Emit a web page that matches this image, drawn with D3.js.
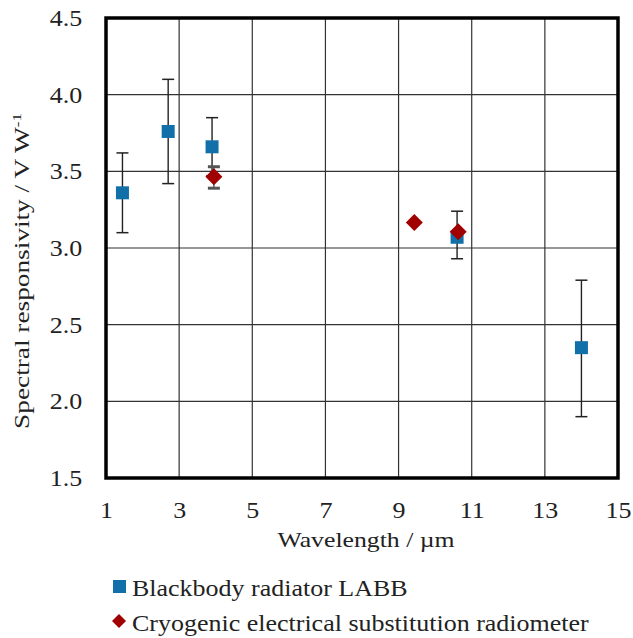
<!DOCTYPE html>
<html>
<head>
<meta charset="utf-8">
<script src="https://cdn.jsdelivr.net/npm/d3@7"></script>
<style>
  body { margin: 0; background: #fff; }
  text { font-family: "Liberation Serif", "Times New Roman", serif; fill: #222; }
</style>
</head>
<body>
<div id="chart"></div>
<script>
// blackbody radiator LABB
var bbWave = [1.45, 2.7, 3.9, 10.6, 14.0];
var bbResp = [3.36, 3.76, 3.66, 3.07, 2.35];
var bbHigh = [3.62, 4.10, 3.85, 3.24, 2.79];
var bbLow  = [3.10, 3.42, 3.47, 2.93, 1.90];

// cryogenic electrical substitution radiometer
var crWave = [3.95, 9.43, 10.63];
var crResp = [3.465, 3.167, 3.106];
var crHigh = [3.53, 3.167, 3.106];
var crLow  = [3.39, 3.167, 3.106];

var xTicks = [1, 3, 5, 7, 9, 11, 13, 15];
var yTicks = [1.5, 2.0, 2.5, 3.0, 3.5, 4.0, 4.5];
var seriesNames = ["Blackbody radiator LABB", "Cryogenic electrical substitution radiometer"];

var width = 633, height = 638;
var margin = {top: 18, right: 15, bottom: 160, left: 106};
var plotW = width - margin.left - margin.right;
var plotH = height - margin.top - margin.bottom;
var stretch = 1.13; // the original font is drawn wider than it is tall

var svg = d3.select("#chart").append("svg")
    .attr("width", width)
    .attr("height", height);

var x = d3.scaleLinear().domain([1, 15]).range([0, plotW]);
var y = d3.scaleLinear().domain([1.5, 4.5]).range([plotH, 0]);

var g = svg.append("g").attr("transform", "translate(" + margin.left + "," + margin.top + ")");

// gridlines
g.selectAll(".vgrid").data(xTicks.slice(1, -1)).enter().append("line")
    .attr("x1", function (d) { return x(d); }).attr("x2", function (d) { return x(d); })
    .attr("y1", 0).attr("y2", plotH)
    .attr("stroke", "#333").attr("stroke-width", 1.2);

g.selectAll(".hgrid").data(yTicks.slice(1, -1)).enter().append("line")
    .attr("x1", 0).attr("x2", plotW)
    .attr("y1", function (d) { return y(d); }).attr("y2", function (d) { return y(d); })
    .attr("stroke", "#333").attr("stroke-width", 1.2);

// frame
g.append("rect")
    .attr("x", 0).attr("y", 0).attr("width", plotW).attr("height", plotH)
    .attr("fill", "none").attr("stroke", "#000").attr("stroke-width", 3.5);

// axes (labels only)
var xAxis = d3.axisBottom(x).tickValues(xTicks).tickSize(0).tickPadding(24).tickFormat(d3.format("d"));
var yAxis = d3.axisLeft(y).tickValues(yTicks).tickSize(0).tickPadding(21).tickFormat(d3.format(".1f"));

g.append("g").attr("transform", "translate(0," + plotH + ")").call(xAxis)
    .call(function (s) { s.select(".domain").remove(); })
    .selectAll("text").style("font-size", "23px").style("font-family", "Liberation Serif")
    .attr("fill", "#222").attr("transform", "scale(" + stretch + ",1)");

g.append("g").call(yAxis)
    .call(function (s) { s.select(".domain").remove(); })
    .selectAll("text").style("font-size", "23px").style("font-family", "Liberation Serif")
    .attr("fill", "#222").attr("transform", "scale(" + stretch + ",1)");

// axis titles
svg.append("text")
    .attr("transform", "translate(" + (margin.left + plotW / 2 + 4) + ",547) scale(1.17,1)")
    .attr("text-anchor", "middle").style("font-size", "22px")
    .text("Wavelength  / \u00b5m");

var yt = svg.append("text")
    .attr("transform", "translate(29," + (margin.top + plotH / 2 + 23) + ") rotate(-90) scale(1.3,1)")
    .attr("text-anchor", "middle").style("font-size", "21px");
yt.append("tspan").text("Spectral responsivity / V  W");
yt.append("tspan").attr("dy", -8).style("font-size", "13px").text("-1");

// error bars helper
function errorBars(xs, lows, highs, color, sw, capW) {
    var eb = g.append("g");
    xs.forEach(function (d, i) {
        if (highs[i] === lows[i]) return;
        eb.append("line")
            .attr("x1", x(d)).attr("x2", x(d))
            .attr("y1", y(lows[i])).attr("y2", y(highs[i]))
            .attr("stroke", color).attr("stroke-width", 1.4);
        [lows[i], highs[i]].forEach(function (v) {
            eb.append("line")
                .attr("x1", x(d) - capW / 2).attr("x2", x(d) + capW / 2)
                .attr("y1", y(v)).attr("y2", y(v))
                .attr("stroke", color).attr("stroke-width", sw);
        });
    });
}

var blue = "#1270a8", red = "#a00000";

errorBars(bbWave, bbLow, bbHigh, "#222", 1.5, 12);

g.selectAll(".bb").data(bbWave).enter().append("rect")
    .attr("x", function (d) { return x(d) - 6.5; })
    .attr("y", function (d, i) { return y(bbResp[i]) - 6.5; })
    .attr("width", 13).attr("height", 13)
    .attr("fill", blue);

errorBars(crWave, crLow, crHigh, "#555", 3, 12);

var diamond = "M0,-8.5L8.5,0L0,8.5L-8.5,0Z";
g.selectAll(".cr").data(crWave).enter().append("path")
    .attr("d", diamond)
    .attr("transform", function (d, i) { return "translate(" + x(d) + "," + y(crResp[i]) + ")"; })
    .attr("fill", red);

// legend
var leg = svg.append("g");
leg.append("rect").attr("x", 113).attr("y", 580).attr("width", 13).attr("height", 13).attr("fill", blue);
leg.append("text").attr("transform", "translate(132,596) scale(" + stretch + ",1)")
    .style("font-size", "23px").text(seriesNames[0]);
leg.append("path").attr("d", "M0,-7L7,0L0,7L-7,0Z")
    .attr("transform", "translate(119,621)").attr("fill", red);
leg.append("text").attr("transform", "translate(132,631) scale(" + stretch + ",1)")
    .style("font-size", "23px").text(seriesNames[1]);
</script>
</body>
</html>
